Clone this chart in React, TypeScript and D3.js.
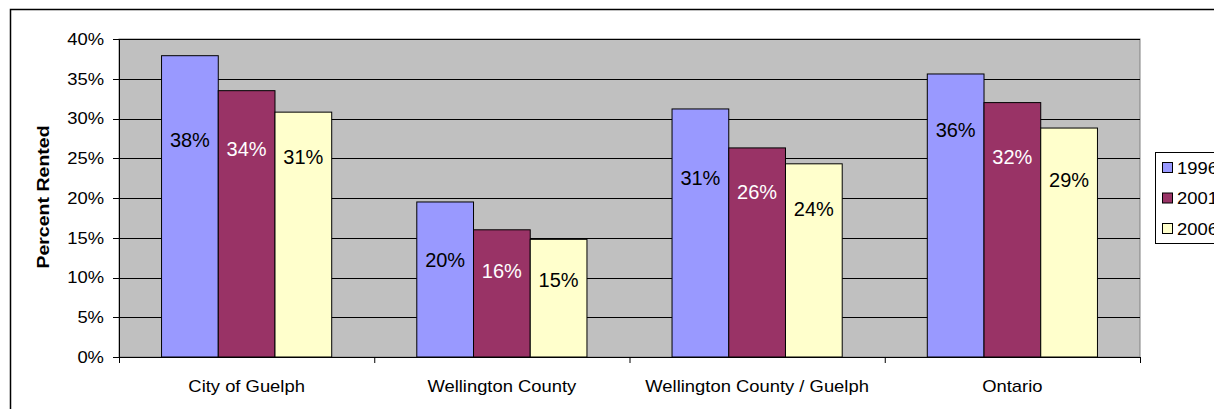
import React from "react";
import * as d3 from "d3";

const categories = ["City of Guelph", "Wellington County", "Wellington County / Guelph", "Ontario"];
const years = ["1996", "2001", "2006"];
const values1996 = [37.9, 19.5, 31.2, 35.6];
const values2001 = [33.5, 16.0, 26.3, 32.0];
const values2006 = [30.8, 14.8, 24.3, 28.8];
// where each data label sits (in percent units, as placed in the original)
const labelAt1996 = [27.3, 12.2, 22.6, 28.6];
const labelAt2001 = [26.2, 10.9, 20.8, 25.2];
const labelAt2006 = [25.2, 9.7, 18.7, 22.3];
const yTicks = [0, 5, 10, 15, 20, 25, 30, 35, 40];

const seriesValues = [values1996, values2001, values2006];
const seriesLabelAt = [labelAt1996, labelAt2001, labelAt2006];
const colors = ["#9999FF", "#993366", "#FFFFCC"];
const labelColors = ["#000", "#fff", "#000"];

const W = 1214, H = 409;
const left = 119, right = 1140, top = 39, bottom = 357;
const FONT = "'Liberation Sans', Arial, sans-serif";

export default function App() {
  const x = d3.scaleBand<string>().domain(categories).range([left, right]).padding(0);
  const y = d3.scaleLinear().domain([0, 40]).range([bottom, top]);
  const bw = x.bandwidth();
  const barW = bw / 4.5;
  const xs = d3.scaleBand<string>().domain(years).range([barW * 0.75, barW * 3.75]).padding(0);
  const boundaries = categories.map((c) => x(c) as number).concat([right]);

  return (
    <svg width={W} height={H} style={{ position: "absolute", left: 0, top: 0, background: "#fff" }} fontFamily={FONT}>
      <rect x={10.5} y={9.5} width={1400} height={600} fill="#fff" stroke="#000" strokeWidth={1.5} />
      {/* plot area */}
      <rect x={left} y={top} width={right - left} height={bottom - top} fill="#C0C0C0" stroke="#808080" strokeWidth={1} />
      {yTicks.filter((t) => t > 0).map((t) => (
        <line key={"g" + t} x1={left} x2={right} y1={Math.round(y(t)) + 0.5} y2={Math.round(y(t)) + 0.5} stroke="#000" strokeWidth={1} />
      ))}
      {/* bars */}
      {seriesValues.map((vals, si) =>
        vals.map((v, ci) => {
          const bx = (x(categories[ci]) as number) + (xs(years[si]) as number);
          return (
            <rect key={`b${si}-${ci}`} x={bx} y={y(v)} width={xs.bandwidth()} height={bottom - y(v)}
              fill={colors[si]} stroke="#000" strokeWidth={1} />
          );
        })
      )}
      {/* data labels */}
      {seriesValues.map((vals, si) =>
        vals.map((v, ci) => {
          const bx = (x(categories[ci]) as number) + (xs(years[si]) as number) + xs.bandwidth() / 2;
          return (
            <text key={`l${si}-${ci}`} x={bx} y={y(seriesLabelAt[si][ci])} dy="0.36em" textAnchor="middle"
              fontSize={20} fill={labelColors[si]}>
              {Math.round(v) + "%"}
            </text>
          );
        })
      )}
      {/* axes */}
      <line x1={left + 0.5} x2={left + 0.5} y1={top} y2={bottom} stroke="#000" />
      <line x1={left} x2={right} y1={bottom + 0.5} y2={bottom + 0.5} stroke="#000" />
      {yTicks.map((t) => (
        <g key={"t" + t}>
          <line x1={left - 6} x2={left} y1={Math.round(y(t)) + 0.5} y2={Math.round(y(t)) + 0.5} stroke="#000" />
          <text x={104} y={y(t)} dy="0.36em" textAnchor="end" fontSize={16} fill="#000"
            transform={`translate(104,0) scale(1.15,1) translate(-104,0)`}>
            {t + "%"}
          </text>
        </g>
      ))}
      {boundaries.map((b, i) => (
        <line key={"xt" + i} x1={b + 0.5} x2={b + 0.5} y1={bottom} y2={bottom + 6} stroke="#000" />
      ))}
      {categories.map((c) => {
        const cx = (x(c) as number) + bw / 2;
        return (
          <text key={c} x={cx} y={386} dy="0.36em" textAnchor="middle" fontSize={16} fill="#000"
            transform={`translate(${cx},0) scale(1.15,1) translate(${-cx},0)`}>
            {c}
          </text>
        );
      })}
      <text transform="translate(43,197) rotate(-90) scale(1.15,1)" textAnchor="middle" dy="0.36em"
        fontSize={17} fontWeight="bold" fill="#000">
        Percent Rented
      </text>
      {/* legend */}
      <rect x={1155.5} y={152.5} width={200} height={91} fill="#fff" stroke="#000" strokeWidth={1} />
      {years.map((yr, i) => {
        const cy = 168 + i * 30.5;
        return (
          <g key={yr}>
            <rect x={1162.5} y={cy - 5.5} width={10} height={10} fill={colors[i]} stroke="#000" />
            <text x={1177} y={cy} dy="0.36em" fontSize={16} fill="#000"
              transform={`translate(1177,0) scale(1.15,1) translate(-1177,0)`}>
              {yr}
            </text>
          </g>
        );
      })}
    </svg>
  );
}
